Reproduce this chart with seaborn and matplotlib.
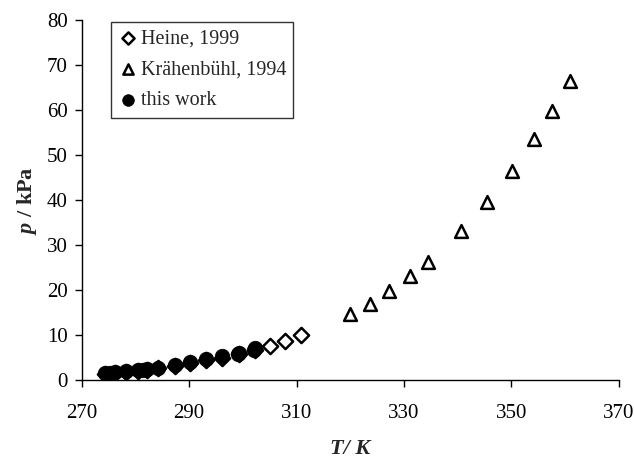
import numpy as np
import pandas as pd
import matplotlib
matplotlib.use("Agg")
import matplotlib.pyplot as plt
import seaborn as sns

# ─────────────────────────────
#  DATA
# ─────────────────────────────
heine_T = [274.3, 276.1, 278.3, 280.5, 282.2, 284.2, 287.3, 290.2, 293.1, 296.2, 299.3, 302.2,
           305.0, 307.9, 310.9]
heine_p = [1.3, 1.5, 1.8, 2.0, 2.2, 2.6, 3.1, 3.8, 4.4, 5.0, 5.8, 6.6,
           7.5, 8.7, 10.0]

kraehenbuehl_T = [319.9, 323.6, 327.2, 331.2, 334.4, 340.6, 345.5, 350.1, 354.2, 357.6, 360.9]
kraehenbuehl_p = [14.7, 17.0, 19.9, 23.1, 26.3, 33.1, 39.6, 46.4, 53.5, 59.8, 66.5]

this_T = [274.3, 275.2, 276.1, 278.3, 280.5, 281.4, 282.2, 284.2, 287.3, 290.2, 293.1,
          296.2, 299.0, 299.3, 302.0, 302.2]
this_p = [1.5, 1.6, 1.7, 2.0, 2.2, 2.3, 2.4, 2.8, 3.3, 4.1, 4.6,
          5.3, 5.8, 6.1, 6.7, 7.2]

x_ticks = [270, 290, 310, 330, 350, 370]
y_ticks = [0, 10, 20, 30, 40, 50, 60, 70, 80]

df_heine = pd.DataFrame({"T": heine_T, "p": heine_p})
df_kr = pd.DataFrame({"T": kraehenbuehl_T, "p": kraehenbuehl_p})
df_this = pd.DataFrame({"T": this_T, "p": this_p})

# ─────────────────────────────
#  STYLE
# ─────────────────────────────
sns.set_style("ticks")
plt.rcParams["font.family"] = ["Liberation Serif", "DejaVu Serif"]
plt.rcParams["mathtext.fontset"] = "custom"
plt.rcParams["mathtext.rm"] = "Liberation Serif"
plt.rcParams["mathtext.bf"] = "Liberation Serif:bold"
plt.rcParams["mathtext.bfit"] = "Liberation Serif:bold:italic"
plt.rcParams["font.size"] = 15

fig = plt.figure(figsize=(6.34, 4.58), dpi=100)
ax = fig.add_axes([0.129, 0.170, 0.847, 0.786])

sns.scatterplot(data=df_heine, x="T", y="p", ax=ax, marker="D", s=60,
                facecolor="white", edgecolor="black", linewidth=1.8,
                label="Heine, 1999", zorder=2)
sns.scatterplot(data=df_kr, x="T", y="p", ax=ax, marker="^", s=85,
                facecolor="white", edgecolor="black", linewidth=1.8,
                label="Krähenbühl, 1994", zorder=2)
sns.scatterplot(data=df_this, x="T", y="p", ax=ax, marker="o", s=110,
                color="black", edgecolor="black", linewidth=0.5,
                label="this work", zorder=3)

ax.set_xlim(270, 370)
ax.set_ylim(0, 80)
ax.set_xticks(x_ticks)
ax.set_yticks(y_ticks)
ax.tick_params(axis="both", direction="out", length=5, width=1, colors="black",
               labelsize=15)
ax.tick_params(axis="x", pad=12)
ax.tick_params(axis="y", pad=5)
for s in ["top", "right"]:
    ax.spines[s].set_visible(False)
for s in ["left", "bottom"]:
    ax.spines[s].set_color("black")
    ax.spines[s].set_linewidth(1)

ax.set_xlabel("T/ K", fontsize=16, fontweight="bold", fontstyle="italic", labelpad=12)
ax.set_ylabel(r"$\mathbfit{p}$ / kPa", fontsize=16, fontweight="bold", labelpad=6)

leg = ax.legend(loc="upper left", bbox_to_anchor=(0.055, 0.995), borderaxespad=0,
                frameon=True, fancybox=False, edgecolor="black", fontsize=14.5,
                handletextpad=0.1, handlelength=1.0, borderpad=0.35,
                labelspacing=0.6, markerscale=0.8)
leg.get_frame().set_linewidth(1)

plt.savefig("out.png", dpi=100)
